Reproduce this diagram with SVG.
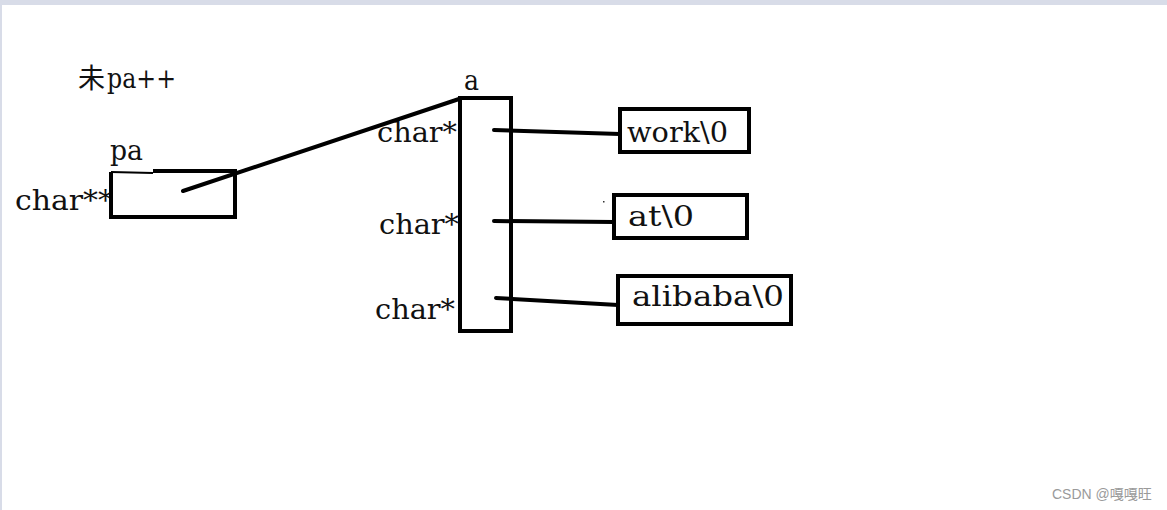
<svg xmlns="http://www.w3.org/2000/svg" width="1167" height="510" viewBox="0 0 1167 510">
<style>
.t{font-family:"DejaVu Serif","Liberation Serif","Noto Sans CJK SC",serif;font-size:28px;fill:#111}
.box{fill:none;stroke:#000;stroke-width:4}
.ln{stroke:#000;stroke-width:4;stroke-linecap:round;fill:none}
.wm{font-family:"Liberation Sans","Noto Sans CJK SC",sans-serif;font-size:14px;fill:#9a9a9a}
</style>
<rect width="1167" height="510" fill="#fff"/>
<rect x="0" y="0" width="1167" height="5" fill="#d8dce8"/>
<rect x="0" y="0" width="2" height="510" fill="#d8dce8"/>
<text class="t" x="78" y="88"><tspan font-family="Noto Sans CJK SC, sans-serif" font-size="27">未</tspan><tspan x="107" textLength="69" lengthAdjust="spacingAndGlyphs">pa++</tspan></text>
<g id="pa">
<text class="t" x="110" y="160" textLength="33" lengthAdjust="spacingAndGlyphs">pa</text>
<text class="t" x="15" y="210" textLength="98" lengthAdjust="spacingAndGlyphs">char**</text>
<path class="box" d="M153 171 H235 V217 H111 V172"/>
<path d="M111 172 L153 173" stroke="#000" stroke-width="2" fill="none"/>
</g>
<g id="a">
<text class="t" x="464" y="90" textLength="15" lengthAdjust="spacingAndGlyphs">a</text>
<rect class="box" x="460" y="98" width="51" height="233"/>
<text class="t" x="377" y="142" textLength="80" lengthAdjust="spacingAndGlyphs">char*</text>
<text class="t" x="379" y="234" textLength="80" lengthAdjust="spacingAndGlyphs">char*</text>
<text class="t" x="375" y="319" textLength="80" lengthAdjust="spacingAndGlyphs">char*</text>
</g>
<g id="work">
<rect class="box" x="620" y="109" width="129" height="43"/>
<text class="t" x="627" y="142" textLength="101" lengthAdjust="spacingAndGlyphs">work\0</text>
</g>
<g id="at">
<rect class="box" x="614" y="195" width="133" height="43"/>
<text class="t" x="628" y="226" textLength="66" lengthAdjust="spacingAndGlyphs">at\0</text>
</g>
<g id="alibaba">
<rect class="box" x="618" y="276" width="173" height="48"/>
<text class="t" x="632" y="306" textLength="152" lengthAdjust="spacingAndGlyphs">alibaba\0</text>
</g>
<g id="connectors">
<path class="ln" d="M183 191 L459 99"/>
<path class="ln" d="M494 130 L620 134"/>
<path class="ln" d="M494 221 L614 222"/>
<path class="ln" d="M496 298 L618 305"/>
</g>
<rect x="603" y="201" width="1.5" height="1.5" fill="#333"/>
<text class="wm" x="1052" y="499">CSDN @嘎嘎旺</text>
</svg>
